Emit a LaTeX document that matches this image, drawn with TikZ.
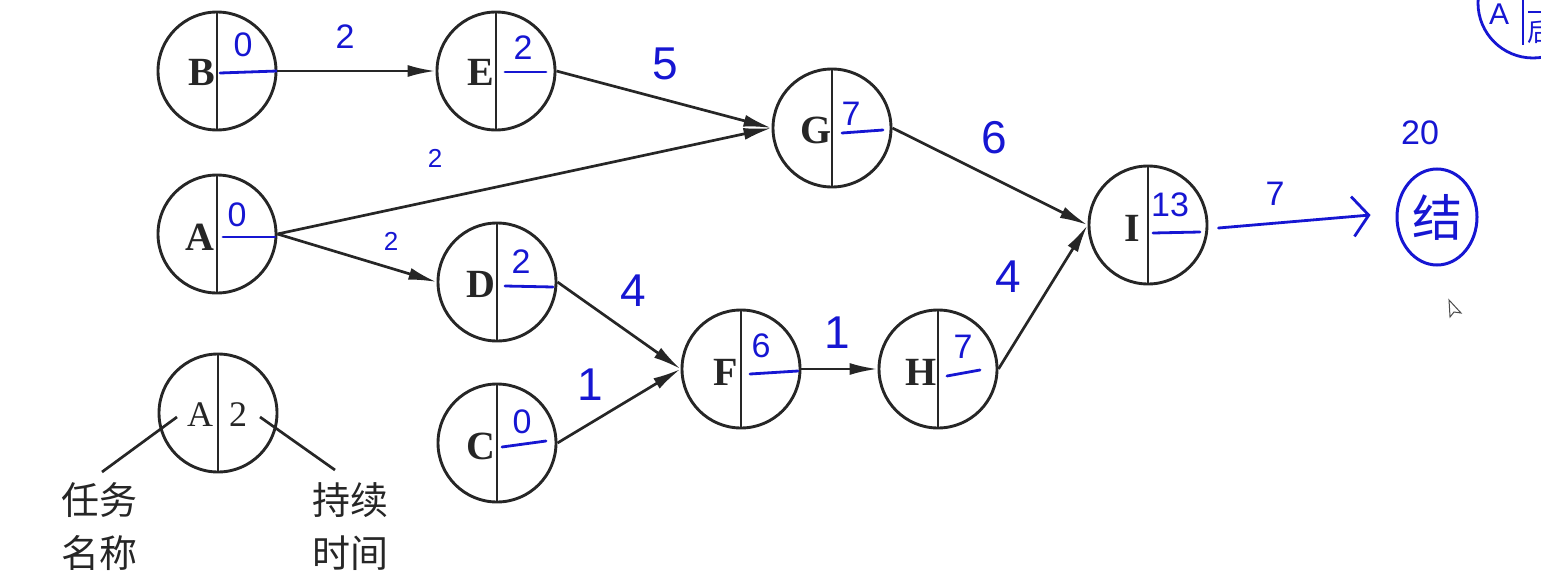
\documentclass[tikz,border=0pt]{standalone}
\usepackage{fontspec}
\setmainfont{Liberation Serif}
\newfontfamily\cjk{Noto Sans CJK SC}
\newfontfamily\handfont{Liberation Sans}
\usetikzlibrary{arrows.meta,shapes.geometric}
\definecolor{handblue}{RGB}{22,22,210}
\definecolor{ink}{RGB}{38,38,38}
\begin{document}
\begin{tikzpicture}[x=1pt,y=-1pt,
  task/.style={circle, draw=ink, line width=2.9pt, minimum size=118pt, inner sep=0pt,
    path picture={\draw[ink, line width=2.7pt] (path picture bounding box.north) -- (path picture bounding box.south);}},
  letter/.style={text=ink, font=\bfseries\fontsize{40}{40}\selectfont, inner sep=0pt},
  legendtxt/.style={text=ink, font=\fontsize{36}{36}\selectfont, inner sep=0pt},
  hand/.style={text=handblue, font=\handfont\fontsize{34}{34}\selectfont, inner sep=0pt},
  handbig/.style={hand, font=\handfont\fontsize{46}{46}\selectfont},
  handsmall/.style={hand, font=\handfont\fontsize{26}{26}\selectfont},
  uline/.style={draw=handblue, line width=2.8pt, line cap=round},
  conn/.style={draw=ink, line width=2.7pt, -{Latex[length=28pt,width=12pt]}},
  leader/.style={draw=ink, line width=2.7pt},
  cjktxt/.style={text=ink, font=\cjk\fontsize{38}{53}\selectfont, align=center, inner sep=0pt}
]
\useasboundingbox (0,0) rectangle (1541,586);

% task nodes
\node[task] (B) at (217,71) {};
\node[task] (E) at (496,71) {};
\node[task] (G) at (832,128) {};
\node[task] (A) at (217,234) {};
\node[task] (D) at (497,282) {};
\node[task] (C) at (497,443) {};
\node[task] (F) at (741,369) {};
\node[task] (H) at (938,369) {};
\node[task] (I) at (1148,225) {};
\node[task] (L) at (218,413) {};

% letters
\node[letter] (Bl) at (202,72) {B};
\node[letter] (El) at (481,72) {E};
\node[letter] (Gl) at (816,130) {G};
\node[letter] (Al) at (200,237) {A};
\node[letter] (Dl) at (481,284) {D};
\node[letter] (Cl) at (481,446) {C};
\node[letter] (Fl) at (726,372) {F};
\node[letter] (Hl) at (921,372) {H};
\node[letter] (Il) at (1132,228) {I};
\node[legendtxt] (Ll) at (200,415) {A};
\node[legendtxt] (L2) at (238,415) {2};

% handwritten node values
\node[hand] (Bv) at (243,45) {0};
\node[hand] (Ev) at (523,48) {2};
\node[hand] (Gv) at (851,114) {7};
\node[hand] (Av) at (237,215) {0};
\node[hand] (Dv) at (521,262) {2};
\node[hand] (Cv) at (522,422) {0};
\node[hand] (Fv) at (761,346) {6};
\node[hand] (Hv) at (963,347) {7};
\node[hand] (Iv) at (1170,205) {13};
\draw[uline] (220,73) -- (277,71);
\draw[uline] (505,72) -- (546,72);
\draw[uline] (842,133) -- (883,130);
\draw[uline] (223,237) -- (275,237);
\draw[uline] (505,286) -- (553,287);
\draw[uline] (502,447) -- (546,441);
\draw[uline] (750,374) -- (798,371);
\draw[uline] (947,376) -- (980,370);
\draw[uline] (1153,233) -- (1200,232);

% connectors
\draw[conn] (B.east) -- (E.west);
\draw[conn] (E.east) -- (G.west);
\draw[conn] (A.east) -- (G.west);
\draw[conn] (A.east) -- (D.west);
\draw[conn] (D.east) -- (F.west);
\draw[conn] (C.east) -- (F.west);
\draw[conn] (F.east) -- (H.west);
\draw[conn] (G.east) -- (I.west);
\draw[conn] (H.east) -- (I.west);

% edge labels
\node[hand] (lBE) at (345,37) {2};
\node[handbig] (lEG) at (665,64) {5};
\node[handsmall] (lAG) at (435,158) {2};
\node[handsmall] (lAD) at (391,241) {2};
\node[handbig] (lDF) at (633,291) {4};
\node[handbig] (lCF) at (590,385) {1};
\node[handbig] (lGI) at (994,138) {6};
\node[handbig] (lFH) at (837,333) {1};
\node[handbig] (lHI) at (1008,277) {4};
\node[hand] (lIE) at (1275,194) {7};

% end node
\node[draw=handblue, line width=3pt, ellipse, minimum width=80pt, minimum height=96pt, inner sep=0pt,
  text=handblue, font=\cjk\fontsize{50}{50}\selectfont] (endn) at (1437,217) {结};
\node[hand] (t20) at (1420,133) {20};
\draw[draw=handblue, line width=2.8pt, line cap=round, -{Straight Barb[length=16pt,width=40pt,line width=2.8pt]}]
  ([xshift=10pt,yshift=-3pt]I.east) -- ([xshift=-25pt,yshift=2pt]endn.west);

% legend leaders and texts
\coordinate (lk1) at (177,417);
\coordinate (lk2) at (260,417);
\node[cjktxt, anchor=north] (tn) at (99,482) {任务\\名称};
\node[cjktxt, anchor=north] (td) at (350,482) {持续\\时间};
\draw[leader] (lk1) -- (102,472);
\draw[leader] (lk2) -- (335,470);

% partial blue mark at top right
\begin{scope}
\clip (0,0) rectangle (1541,586);
\draw[handblue, line width=2.8pt] (1533,3) circle[radius=55];
\draw[handblue, line width=2.6pt] (1523,-5) -- (1523,45);
\draw[handblue, line width=2.4pt] (1528,12) -- (1545,12);
\node[text=handblue, font=\handfont\fontsize{30}{30}\selectfont, inner sep=0pt] (ta) at (1499,14) {A};
\node[text=handblue, font=\cjk\fontsize{26}{26}\selectfont, inner sep=0pt, anchor=west] (tb) at (1527,32) {后};
\end{scope}

% mouse cursor
\draw[black!70, line width=1pt, fill=white] (1449,300) -- (1450,317) -- (1454,312) -- (1461,313) -- cycle;
\end{tikzpicture}
\end{document}
